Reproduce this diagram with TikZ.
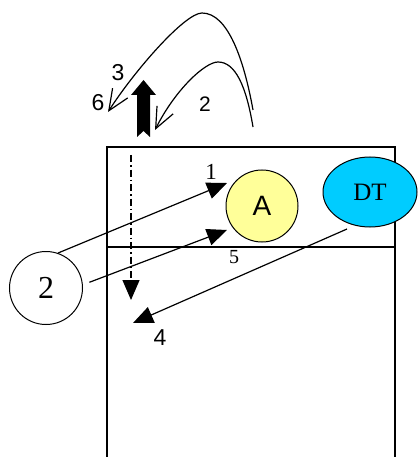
\documentclass[tikz,border=0pt]{standalone}
\usepackage{fontspec}
\setmainfont{Liberation Serif}
\setsansfont{Liberation Sans}
\usetikzlibrary{arrows.meta,shapes.geometric}

\begin{document}
\begin{tikzpicture}[x=1pt,y=-1pt,
  line width=1.2pt,
  lbl/.style={inner sep=0pt,font=\fontsize{23}{23}\selectfont},
  slbl/.style={inner sep=0pt,font=\sffamily\fontsize{23}{23}\selectfont},
  arr/.style={-{Triangle[length=20pt,width=17pt]}},
  barb/.style={-{Straight Barb[length=21pt,width=18pt]}},
  ball/.style={circle,draw,line width=1pt,inner sep=0pt,minimum size=72pt}]
\useasboundingbox (0,0) rectangle (417,457);
% room
\draw[line width=1.6pt] (107,457) -- (107,147) -- (395,147) -- (395,457);
\draw[line width=1.4pt] (107,247) -- (395,247);
% nodes
\node[ball,fill={rgb,255:red,255;green,255;blue,153},
  font=\sffamily\fontsize{28}{28}\selectfont] (A) at (262,206) {A};
\node[ellipse,draw,line width=1pt,fill={rgb,255:red,0;green,204;blue,255},
  minimum width=94pt,minimum height=70pt,inner sep=0pt,
  font=\fontsize{25}{25}\selectfont] (DT) at (370,192) {DT};
\node[ball,minimum size=73pt,font=\fontsize{32}{32}\selectfont] (two) at (46,288) {2};
% free ends
\coordinate (t1) at (227,183);
\coordinate (t5) at (227,230);
\coordinate (d0) at (347,229);
\coordinate (t4) at (133,323);
\coordinate (v0) at (131,155);
\coordinate (v1) at (131,300);
\coordinate (c0) at (253,110);
\coordinate (cp) at (202,13);
\coordinate (c1) at (108,112);
\coordinate (e0) at (253,127);
\coordinate (ep) at (218,62);
\coordinate (e1) at (155,130);
% connectors
\draw[arr] (two.71) -- (t1);
\draw[arr,shorten <=7pt] (two.5) -- (t5);
\draw[arr] (d0) -- (t4);
\draw[arr,dash pattern=on 7pt off 3pt on 1.5pt off 3pt] (v0) -- (v1);
\draw[barb] (c0) .. controls (244,60) and (228,13) .. (cp)
  .. controls (185,13) and (135,70) .. (c1);
\draw[barb] (e0) .. controls (246,85) and (235,62) .. (ep)
  .. controls (205,62) and (175,90) .. (e1);
% exit
\fill (137,137) -- (137,95) -- (131,95) -- (143.5,80) -- (156,95)
  -- (150,95) -- (150,137) -- (143.5,131) -- cycle;
% labels
\node[lbl] (n1) at (211,172) {1};
\node[lbl,font=\fontsize{20}{20}\selectfont] (n5) at (234,257) {5};
\node[slbl] (n4) at (160,338) {4};
\node[slbl] (n3) at (118,73) {3};
\node[slbl] (n6) at (98,103) {6};
\node[slbl,font=\sffamily\fontsize{21}{21}\selectfont] (n2) at (205,104) {2};
\end{tikzpicture}
\end{document}
